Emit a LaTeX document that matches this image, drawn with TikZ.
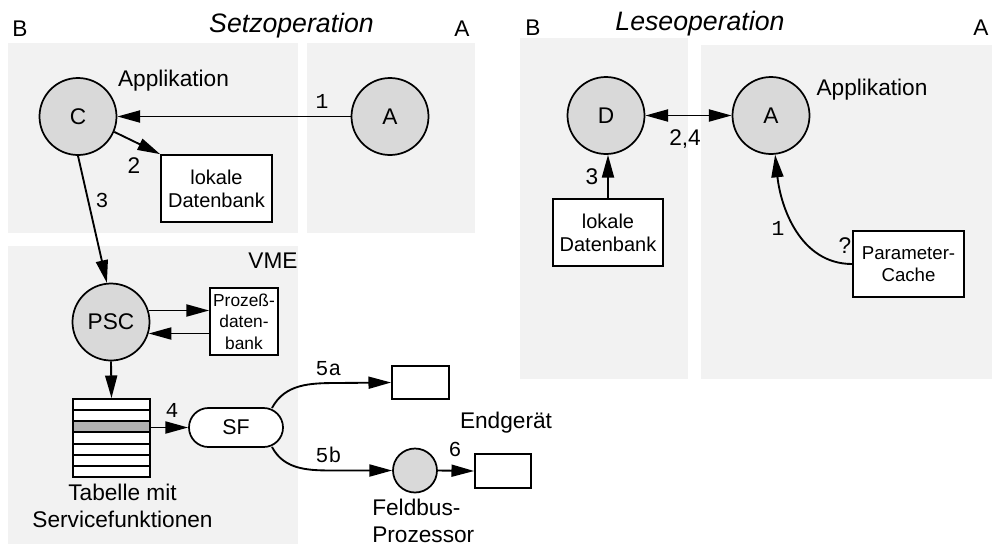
\documentclass[tikz,border=0pt]{standalone}
\usepackage{fontspec}
\setmainfont{Liberation Sans}
\newfontfamily\monof{Liberation Mono}
\usetikzlibrary{arrows.meta,calc}
\definecolor{panelgray}{RGB}{242,242,242}
\definecolor{circgray}{RGB}{217,217,217}
\definecolor{rowgray}{RGB}{178,178,178}
\tikzset{
  panel/.style={fill=panelgray,draw=none},
  circ/.style={circle,draw,line width=1.3pt,fill=circgray,inner sep=0pt,minimum size=57.75pt,font=\fontsize{17}{19}\selectfont},
  smallcirc/.style={circle,draw,line width=1.3pt,fill=circgray,inner sep=0pt,minimum size=33pt},
  box/.style={rectangle,draw,line width=1.3pt,fill=white,inner sep=0pt,align=center},
  arr/.style={line width=1.4pt,-{Triangle[length=17pt,width=9pt]}},
  darr/.style={line width=1.4pt,{Triangle[length=17pt,width=9pt]}-{Triangle[length=17pt,width=9pt]}},
  ttl/.style={font=\fontsize{20}{22}\selectfont\itshape,anchor=base,inner sep=0pt},
  lbl/.style={font=\fontsize{17}{20}\selectfont,anchor=base,inner sep=0pt},
  mlbl/.style={font=\fontsize{16}{18}\selectfont\monof,anchor=base,inner sep=0pt},
}
\begin{document}
\begin{tikzpicture}[x=0.75pt,y=-0.75pt]
\useasboundingbox (0,0) rectangle (992,547);
% panels
\fill[panel] (8,43) rectangle (298,233);
\fill[panel] (307,43) rectangle (475,233);
\fill[panel] (8,246) rectangle (298,544);
\fill[panel] (520,38) rectangle (688,379);
\fill[panel] (701,45) rectangle (992,379);
% titles and corner labels
\node[ttl] (tSetz) at (291.5,32) {Setzoperation};
\node[ttl] (tLese) at (700,30) {Leseoperation};
\node[lbl] (bS) at (20,36) {B};
\node[lbl] (aS) at (462,36) {A};
\node[lbl] (bL) at (533,35) {B};
\node[lbl] (aL) at (981,35) {A};
% ---- Setzoperation ----
\node[lbl] (appS) at (173.5,86) {Applikation};
\node[circ] (C) at (78,116.5) {C};
\node[circ] (A1) at (390,116.5) {A};
\node[box,minimum width=83.25pt,minimum height=50.25pt,font=\fontsize{15}{17.25}\selectfont] (ldbS) at (216.5,188.5) {lokale\\Datenbank};
\draw[arr] (A1.west) -- (C.east);
\node[mlbl] (l1S) at (322,108) {1};
\draw[arr] (C.-23) -- (ldbS.north west);
\node[lbl] (l2S) at (134,173) {2};
\node[circ] (PSC) at (111,322) {PSC};
\draw[arr] (C.south) -- (PSC.96);
\node[mlbl] (l3S) at (102,207) {3};
\node[lbl] (vme) at (273,268) {VME};
\node[box,minimum width=51pt,minimum height=50.25pt,font=\fontsize{13}{16}\selectfont] (pdb) at (244,321.5) {Prozeß-\\daten-\\bank};
\draw[arr] (PSC.17) -- (PSC.17 -| pdb.west);
\draw[arr] (pdb.west |- PSC.-17) -- (PSC.-17);
% table
\node[box,minimum width=57.75pt,minimum height=58.5pt] (tbl) at (111.5,438) {};
\fill[rowgray] (73,421.3) rectangle (150,432.4);
\foreach \yy in {410.1,421.3,432.4,443.6,454.7,465.9}
  \draw[line width=1.5pt] (73,\yy) -- (150,\yy);
\draw[line width=1.5pt] (73,399) rectangle (150,477);
\draw[arr] (PSC.south) -- (tbl.north);
\node[lbl,align=center,anchor=north,font=\fontsize{17}{20.25}\selectfont] (tlab) at (122.5,484) {Tabelle mit\\Servicefunktionen};
\node[box,minimum width=70.5pt,minimum height=29.25pt,rounded corners=14.6pt,font=\fontsize{16}{18}\selectfont] (SF) at (236,427.5) {SF};
\draw[arr] (SF.west -| tbl.east) -- (SF.west);
\node[mlbl] (l4) at (172,417) {4};
% 5a / 5b
\node[box,minimum width=42.75pt,minimum height=24.75pt] (b5a) at (420.5,382.5) {};
\node[smallcirc] (FB) at (415,470.5) {};
\node[box,minimum width=42pt,minimum height=25.5pt] (b6) at (503,471) {};
\coordinate (s5a) at (272,408);
\coordinate (k5a) at (337,383);
\coordinate (s5b) at (272,447);
\coordinate (k5b) at (337,470.5);
\draw[arr] (s5a) to[out=62,in=180] (k5a) -- (b5a.west);
\draw[arr] (s5b) to[out=-62,in=180] (k5b) -- (FB.west);
\node[mlbl] (l5a) at (328.5,375) {5a};
\node[mlbl] (l5b) at (328.5,462) {5b};
\draw[arr] (FB.east) -- (b6.west);
\node[mlbl] (l6) at (455,456) {6};
\node[lbl] (endg) at (506,428) {Endgerät};
\node[lbl,align=left,anchor=north west,font=\fontsize{17}{20.25}\selectfont] (fbp) at (372,499) {Feldbus-\\Prozessor};
% ---- Leseoperation ----
\node[circ] (D) at (606,115.5) {D};
\node[circ] (A2) at (771,115.5) {A};
\node[lbl] (appL) at (872,95) {Applikation};
\draw[darr] (D.east) -- (A2.west);
\node[lbl] (l24) at (685,145) {2,4};
\node[box,minimum width=82.5pt,minimum height=50.25pt,font=\fontsize{15}{17.25}\selectfont] (ldbL) at (608,232.5) {lokale\\Datenbank};
\draw[arr] (ldbL.north) -- (ldbL.north |- D.south);
\node[lbl] (l3L) at (592,184) {3};
\node[box,minimum width=83.25pt,minimum height=49.5pt,font=\fontsize{14}{16.5}\selectfont] (pc) at (908.5,264) {Parameter-\\Cache};
\draw[arr] (pc.west) to[out=180,in=-84] (A2.-84);
\node[mlbl] (l1L) at (778,235) {1};
\node[lbl] (qm) at (845,253) {?};
\end{tikzpicture}
\end{document}
